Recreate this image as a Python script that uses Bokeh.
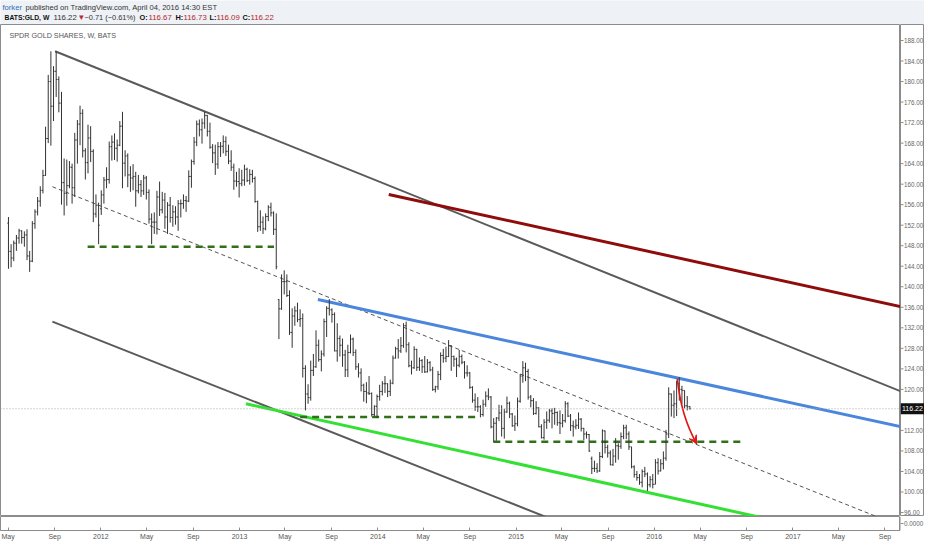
import pandas as pd
from datetime import datetime
from bokeh.plotting import figure
from bokeh.layouts import column, row
from bokeh.models import (ColumnDataSource, Range1d, MonthsTicker, CustomJSTickFormatter,
                          Label, Span, Arrow, VeeHead)
from bokeh.core.properties import value
from bokeh.embed import file_html
from bokeh.resources import INLINE

# ---------------- data (weekly GLD bars) ----------------
first_week = "2011-05-02"
opens = [
    152.4, 146.9, 145.6, 148.5, 149.5, 150.9, 149.6, 150.1, 146.0, 145.0, 152.3, 154.6, 156.7, 158.8,
    161.7, 168.9, 180.0, 175.2, 182.0, 180.4, 175.8, 160.3, 158.2, 159.7, 163.3, 159.3, 168.6, 171.7,
    173.8, 166.5, 164.2, 169.0, 166.4, 154.2, 155.9,
    155.2, 157.9, 160.8, 160.9, 167.3, 168.2, 167.0, 167.6, 171.3, 164.1, 165.5, 161.8, 161.2, 161.5,
    158.7, 159.9, 158.7, 161.2, 158.4, 153.2, 152.6, 152.6, 157.5, 155.0, 156.9, 153.6, 155.9, 153.5,
    154.6, 153.6, 156.2, 156.2, 156.8, 156.7, 161.5, 164.4, 168.2, 171.7, 170.6, 171.9, 173.4, 170.3,
    167.2, 166.1, 163.9, 167.3, 167.4, 168.3, 166.4, 164.5, 163.3, 160.6, 160.5,
    160.1, 160.8, 162.9, 160.7, 161.9, 161.1, 156.6, 151.7, 152.6, 151.3, 153.7, 155.5, 154.4, 151.2,
    137.5, 135.7, 141.0, 141.0, 138.3, 131.1, 134.3, 135.3, 133.6, 133.8, 124.1, 119.1, 118.4, 123.7,
    124.4, 128.6, 125.8, 126.9, 133.2, 135.8, 135.5, 134.6, 127.5, 129.9, 128.6, 126.7, 123.8, 127.2,
    129.8, 127.2, 124.4, 123.2, 120.8, 119.6, 119.3, 119.2, 115.1, 116.7,
    118.6, 119.6, 121.1, 121.1, 119.6, 121.2, 126.1, 127.9, 127.5, 128.5, 132.4, 128.7, 124.6, 124.2,
    127.8, 124.3, 125.6, 124.4, 123.4, 125.2, 123.8, 120.0, 120.5, 122.9, 126.6, 126.1, 126.4, 128.5,
    126.4, 125.9, 124.7, 126.4, 125.3, 123.2, 123.2, 120.4, 117.9, 116.6, 116.6, 115.1, 117.1, 118.7,
    118.5, 112.7, 113.4, 114.4, 115.4, 112.4, 115.6, 117.3, 115.2, 112.9,
    113.3, 117.7, 122.6, 124.2, 123.5, 118.5, 117.8, 115.3, 116.4, 112.7, 110.6, 113.6, 114.0, 115.8,
    115.3, 115.5, 113.5, 113.4, 113.9, 117.2, 114.8, 112.9, 112.7, 113.0, 114.2, 112.4, 111.3, 111.2,
    106.5, 104.6, 104.6, 104.1, 106.9, 111.9, 108.7, 107.6, 105.3, 107.0, 109.0, 108.9, 110.8, 112.5,
    111.3, 108.8, 104.9, 103.4, 102.8, 101.9, 104.0, 103.5, 101.4, 102.4,
    101.5, 105.7, 104.1, 105.5, 106.6, 111.3, 119.1, 116.9, 117.2, 121.1, 120.0, 119.8, 116.8, 116.67,
]
highs = [
    153.6, 148.3, 149.0, 150.1, 151.3, 151.0, 150.8, 151.2, 147.0, 152.8, 155.1, 157.5, 159.6, 162.8,
    171.2, 181.3, 185.9, 183.0, 185.8, 181.0, 178.0, 165.0, 164.8, 164.5, 164.0, 170.0, 172.5, 175.3,
    174.6, 167.0, 171.6, 171.3, 166.8, 158.0, 156.4,
    158.8, 161.4, 163.3, 168.3, 169.5, 169.9, 168.7, 172.3, 174.1, 166.6, 166.0, 163.5, 163.9, 162.4,
    161.8, 160.8, 161.8, 161.6, 159.0, 154.3, 154.5, 158.7, 160.5, 158.5, 158.3, 156.5, 157.5, 155.9,
    155.7, 156.9, 157.0, 158.0, 157.7, 162.7, 164.8, 169.2, 172.4, 172.6, 172.8, 174.1, 173.5, 172.0,
    167.8, 167.7, 168.2, 168.2, 169.5, 169.3, 167.7, 166.6, 164.0, 162.4, 163.1,
    162.8, 163.8, 163.2, 162.9, 162.8, 161.5, 156.8, 154.9, 153.7, 154.3, 155.9, 156.4, 154.7, 154.3,
    137.6, 142.4, 143.2, 142.4, 139.3, 135.8, 136.2, 136.9, 135.6, 134.8, 124.7, 121.0, 125.6, 126.9,
    131.5, 129.7, 127.6, 133.8, 136.2, 137.6, 135.8, 135.0, 132.9, 130.5, 129.9, 127.7, 128.7, 130.7,
    130.1, 127.8, 125.1, 124.1, 121.1, 121.4, 122.6, 119.4, 116.9, 119.0,
    120.9, 121.6, 122.6, 121.2, 121.9, 126.6, 128.3, 129.8, 130.2, 132.9, 133.2, 129.2, 125.6, 128.4,
    127.9, 126.2, 125.9, 126.5, 125.9, 125.5, 124.4, 120.7, 123.6, 127.2, 127.9, 128.3, 129.6, 128.6,
    126.6, 126.2, 127.7, 126.8, 125.5, 124.7, 123.4, 120.6, 119.2, 118.5, 116.9, 118.0, 119.6, 120.2,
    118.7, 114.4, 114.6, 117.0, 116.9, 116.2, 118.6, 117.6, 115.4, 114.9,
    118.4, 123.0, 125.5, 125.2, 124.0, 118.9, 118.3, 117.7, 116.5, 113.2, 114.2, 115.7, 116.2, 116.3,
    116.4, 115.7, 115.9, 115.2, 117.7, 117.5, 115.2, 113.9, 114.2, 115.5, 114.4, 112.5, 111.8, 111.3,
    106.9, 106.1, 105.6, 107.8, 112.2, 112.0, 109.2, 108.1, 108.4, 110.5, 109.5, 111.6, 113.1, 113.1,
    111.8, 108.8, 105.2, 104.1, 103.5, 104.4, 104.9, 103.8, 103.1, 103.5,
    106.4, 106.6, 106.4, 107.9, 112.1, 120.4, 119.2, 119.8, 121.7, 122.4, 120.7, 119.8, 118.7, 116.73,
]
lows = [
    143.5, 143.8, 145.0, 147.0, 148.4, 148.4, 147.8, 145.2, 142.9, 144.8, 151.3, 153.9, 155.6, 158.2,
    161.6, 168.0, 167.5, 172.3, 177.0, 174.0, 156.0, 153.9, 155.8, 159.2, 156.2, 157.5, 164.0, 167.6,
    165.2, 160.9, 162.1, 164.3, 152.6, 153.5, 148.3,
    154.0, 156.2, 159.2, 160.1, 164.6, 164.7, 164.4, 167.4, 159.2, 161.5, 159.4, 158.5, 158.8, 155.6,
    158.2, 157.5, 157.9, 157.0, 152.3, 148.3, 150.3, 150.2, 153.8, 154.3, 151.3, 150.3, 152.5, 151.7,
    152.1, 150.9, 153.5, 155.2, 154.6, 156.5, 159.3, 163.8, 167.4, 169.3, 167.9, 170.8, 169.3, 166.9,
    164.1, 161.8, 163.0, 165.3, 166.0, 165.5, 163.9, 162.6, 158.9, 159.5, 157.4,
    159.6, 159.7, 160.4, 159.9, 160.3, 156.4, 150.7, 150.9, 150.3, 151.0, 152.8, 153.7, 150.1, 143.4,
    129.8, 135.5, 138.5, 138.0, 130.6, 128.1, 132.4, 133.1, 132.2, 122.3, 115.9, 117.2, 117.8, 122.6,
    124.2, 125.4, 123.5, 126.4, 130.2, 134.4, 133.0, 127.4, 125.4, 126.4, 124.4, 122.4, 122.4, 127.0,
    126.5, 123.8, 122.3, 119.6, 117.6, 117.3, 118.9, 114.7, 114.7, 114.5,
    117.8, 118.8, 119.3, 118.5, 118.7, 121.0, 126.0, 126.0, 127.1, 128.1, 127.2, 124.3, 122.9, 124.0,
    123.6, 123.6, 123.2, 123.2, 123.3, 123.5, 119.7, 119.4, 119.9, 121.8, 125.2, 125.3, 126.3, 123.6,
    124.4, 122.4, 124.3, 124.9, 122.1, 122.5, 120.1, 117.4, 115.8, 115.6, 114.6, 114.7, 116.6, 117.9,
    112.4, 109.8, 110.0, 113.8, 110.8, 110.4, 115.4, 114.4, 112.7, 111.9,
    112.8, 117.4, 121.3, 121.6, 118.0, 116.5, 115.0, 115.1, 112.6, 110.4, 110.2, 112.3, 113.5, 112.4,
    113.1, 112.9, 111.3, 112.6, 113.5, 114.6, 111.9, 110.8, 112.2, 112.3, 111.8, 110.1, 110.4, 107.8,
    103.5, 103.9, 103.7, 103.9, 106.6, 107.5, 106.7, 105.2, 105.1, 105.7, 106.3, 108.4, 110.3, 110.3,
    108.2, 104.6, 102.8, 102.2, 101.4, 100.9, 102.9, 100.2, 100.9, 100.7,
    101.5, 103.4, 104.0, 104.4, 106.1, 110.5, 114.7, 114.4, 114.8, 117.8, 117.1, 116.3, 115.9, 116.09,
]
closes = [
    146.9, 145.6, 148.5, 149.5, 150.9, 149.6, 150.1, 146.0, 145.0, 152.3, 154.6, 156.7, 158.8, 161.7,
    168.9, 180.0, 175.2, 182.0, 180.4, 175.8, 160.3, 158.2, 159.7, 163.3, 159.3, 168.6, 171.7, 173.8,
    166.5, 164.2, 169.0, 166.4, 154.2, 155.9, 152.0,
    157.9, 160.8, 160.9, 167.3, 168.2, 167.0, 167.6, 171.3, 164.1, 165.5, 161.8, 161.2, 161.5, 158.7,
    159.9, 158.7, 161.2, 158.4, 153.2, 152.6, 152.6, 157.5, 155.0, 156.9, 153.6, 155.9, 153.5, 154.6,
    153.6, 156.2, 156.2, 156.8, 156.7, 161.5, 164.4, 168.2, 171.7, 170.6, 171.9, 173.4, 170.3, 167.2,
    166.1, 163.9, 167.3, 167.4, 168.3, 166.4, 164.5, 163.3, 160.6, 160.5, 160.1,
    160.8, 162.9, 160.7, 161.9, 161.1, 156.6, 151.7, 152.6, 151.3, 153.7, 155.5, 154.4, 151.2, 143.9,
    135.7, 141.0, 141.0, 138.3, 131.1, 134.3, 135.3, 133.6, 133.8, 124.1, 119.1, 118.4, 123.7, 124.4,
    128.6, 125.8, 126.9, 133.2, 135.8, 135.5, 134.6, 127.5, 129.9, 128.6, 126.7, 123.8, 127.2, 129.8,
    127.2, 124.4, 123.2, 120.8, 119.6, 119.3, 119.2, 115.1, 116.7, 118.6,
    119.6, 121.1, 121.1, 119.6, 121.2, 126.1, 127.9, 127.5, 128.5, 132.4, 128.7, 124.6, 124.2, 127.8,
    124.3, 125.6, 124.4, 123.4, 125.2, 123.8, 120.0, 120.5, 122.9, 126.6, 126.1, 126.4, 128.5, 126.4,
    125.9, 124.7, 126.4, 125.3, 123.2, 123.2, 120.4, 117.9, 116.6, 116.6, 115.1, 117.1, 118.7, 118.5,
    112.7, 113.4, 114.4, 115.4, 112.4, 115.6, 117.3, 115.2, 112.9, 113.3,
    117.7, 122.6, 124.2, 123.5, 118.5, 117.8, 115.3, 116.4, 112.7, 110.6, 113.6, 114.0, 115.8, 115.3,
    115.5, 113.5, 113.4, 113.9, 117.2, 114.8, 112.9, 112.7, 113.0, 114.2, 112.4, 111.3, 111.2, 108.0,
    104.6, 104.6, 104.1, 106.9, 111.9, 108.7, 107.6, 105.3, 107.0, 109.0, 108.9, 110.8, 112.5, 111.3,
    108.8, 104.9, 103.4, 102.8, 101.9, 104.0, 103.5, 101.4, 102.4, 101.5,
    105.7, 104.1, 105.5, 106.6, 111.3, 119.1, 116.9, 117.2, 121.1, 120.0, 119.8, 116.8, 116.6, 116.22,
]

# trend lines / drawings (date, price)
channel_top_x = ["2011-09-02", "2017-10-20"]; channel_top_y = [185.9, 119.4]
channel_bot_x = ["2011-08-26", "2015-04-15"]; channel_bot_y = [133.2, 94.4]
mid_dash_x = ["2011-08-26", "2017-10-20"]; mid_dash_y = [159.5, 93.1]
red_line_x = ["2014-01-30", "2017-10-20"]; red_line_y = [158.0, 136.0]
blue_line_x = ["2013-07-27", "2017-10-20"]; blue_line_y = [137.5, 112.6]
green_line_x = ["2013-01-18", "2016-12-23"]; green_line_y = [117.2, 93.8]
support_levels = [147.8, 114.6, 109.8]
support_starts = ["2011-11-27", "2013-06-10", "2014-11-02"]
support_ends = ["2013-04-02", "2014-09-29", "2016-08-27"]
arrow_x = ["2016-03-02", "2016-03-11", "2016-04-22"]; arrow_y = [122.1, 114.9, 109.4]
last_price = 116.22

price_ticks = [96, 100, 104, 108, 112, 116, 120, 124, 128, 132, 136, 140, 144, 148,
               152, 156, 160, 164, 168, 172, 176, 180, 184, 188]
price_tick_labels = ["%.2f" % t for t in price_ticks]
volume_tick_label = "0.0000"
month_names = ["Jan", "Feb", "Mar", "Apr", "May", "Jun", "Jul", "Aug", "Sep", "Oct", "Nov", "Dec"]

header1_text = ["forker", "published on TradingView.com, April 04, 2016 14:30 EST"]
header1_x = [2, 25]
header1_color = ["#2a6fb8", "#333333"]
header2_text = ["BATS:GLD, W", "116.22", "\u25bc", "\u22120.71 (\u22120.61%)", "O:", "116.67",
                "H:", "116.73", "L:", "116.09", "C:", "116.22"]
header2_x = [4, 53, 77, 84, 139, 148, 175, 183, 209, 216, 242, 250]
header2_size = ["6.8px", "7.8px", "7.8px", "7.4px", "7.4px", "7.8px",
                "7.4px", "7.8px", "7.4px", "7.8px", "7.4px", "7.8px"]
header2_color = ["#111111", "#333333", "#c0262d", "#333333", "#111111", "#b3262b",
                 "#111111", "#b3262b", "#111111", "#b3262b", "#111111", "#b3262b"]
header2_style = ["bold", "normal", "normal", "normal", "bold", "normal",
                 "bold", "normal", "bold", "normal", "bold", "normal"]
chart_label = "SPDR GOLD SHARES, W, BATS"

# ---------------- build ----------------
FONT = "Liberation Sans"
PLOT_W, AXIS_W = 900, 24
HEAD_H, MAIN_H, VOL_H = 24, 492, 26
GREY = "#8c8c8c"
HEAD_BG = "#eef1f5"
common = dict(output_backend="svg", toolbar_location=None,
              min_border_left=0, min_border_right=0, min_border_top=0, min_border_bottom=0)

def d(lst):
    return pd.to_datetime(lst)

# header strip
head = figure(width=PLOT_W + AXIS_W, height=HEAD_H, x_range=Range1d(0, PLOT_W + AXIS_W),
              y_range=Range1d(HEAD_H, 0), x_axis_location=None, y_axis_location=None, **common)
head.grid.visible = False
head.outline_line_color = None
head.background_fill_color = HEAD_BG
head.border_fill_color = HEAD_BG
head.text(x=header1_x, y=[7, 7], text=header1_text, text_color=header1_color,
          text_font=value(FONT), text_font_size="7.6px", text_baseline="middle")
head.text(x=header2_x, y=[17] * len(header2_x), text=header2_text, text_color=header2_color,
          text_font_style=header2_style, text_font_size=header2_size, text_font=value(FONT),
          text_baseline="middle")

# main price pane
dates = pd.date_range(first_week, periods=len(closes), freq="7D")
tick_w = pd.Timedelta(days=3)
src = ColumnDataSource(dict(x=dates, xl=dates - tick_w, xr=dates + tick_w,
                            o=opens, h=highs, l=lows, c=closes))
x_range = Range1d(start=datetime(2011, 4, 11), end=datetime(2017, 10, 12))
y_range = Range1d(95.22, 191.12)
main = figure(width=PLOT_W, height=MAIN_H, x_range=x_range, y_range=y_range,
              x_axis_type="datetime", x_axis_location=None, y_axis_location=None, **common)
main.grid.visible = False
main.outline_line_color = GREY

main.add_layout(Span(location=last_price, dimension="width", line_color="#a8a8a8",
                     line_dash="1 2", line_width=1))
main.line(d(mid_dash_x), mid_dash_y, line_color="#555555", line_width=1, line_dash="4 3")
main.line(d(channel_top_x), channel_top_y, line_color="#5a5a5a", line_width=2)
main.line(d(channel_bot_x), channel_bot_y, line_color="#5a5a5a", line_width=2)
main.line(d(red_line_x), red_line_y, line_color="#8e0c0c", line_width=3)
main.line(d(blue_line_x), blue_line_y, line_color="#4a86dc", line_width=3)
main.line(d(green_line_x), green_line_y, line_color="#33e033", line_width=3)
main.segment(x0=d(support_starts), y0=support_levels, x1=d(support_ends), y1=support_levels,
             line_color="#2f7018", line_width=2.5, line_dash="7 5")

bar_color = "#333333"
main.segment(x0="x", y0="l", x1="x", y1="h", source=src, line_color=bar_color, line_width=1)
main.segment(x0="xl", y0="o", x1="x", y1="o", source=src, line_color=bar_color, line_width=1)
main.segment(x0="x", y0="c", x1="xr", y1="c", source=src, line_color=bar_color, line_width=1)

ax = d(arrow_x)
main.quadratic(x0=[ax[0]], y0=[arrow_y[0]], x1=[ax[2]], y1=[arrow_y[2]],
               cx=[ax[1]], cy=[arrow_y[1]], line_color="#e01515", line_width=1.6)
to_ms = lambda t: t.value / 1e6
main.add_layout(Arrow(x_start=to_ms(ax[1]), y_start=arrow_y[1], x_end=to_ms(ax[2]), y_end=arrow_y[2],
                      line_alpha=0, end=VeeHead(size=8, line_color="#e01515", fill_color="#e01515",
                                                line_width=1)))
main.add_layout(Label(x=9, y=MAIN_H - 11, x_units="screen", y_units="screen", text=chart_label,
                      text_color="#555555", text_font=FONT, text_font_size="7.2px",
                      text_baseline="middle"))

# right price scale
pax = figure(width=AXIS_W, height=MAIN_H, x_range=Range1d(0, AXIS_W), y_range=y_range,
             x_axis_location=None, y_axis_location=None, **common)
pax.grid.visible = False
pax.outline_line_color = GREY
pax.segment(x0=[0] * len(price_ticks), y0=price_ticks, x1=[3] * len(price_ticks), y1=price_ticks,
            line_color=GREY, line_width=1)
pax.text(x=[3.5] * len(price_ticks), y=price_ticks, text=price_tick_labels, text_color="#666666",
         text_font=value(FONT), text_font_size="6.3px", text_baseline="middle")
pax.rect(x=[AXIS_W / 2], y=[last_price], width=AXIS_W, height=11, height_units="screen",
         fill_color="#111111", line_color=None)
pax.text(x=[1.5], y=[last_price], text=["116.22"], text_color="white",
         text_font=value(FONT), text_font_size="7px", text_baseline="middle")

# volume pane with the time axis
vol = figure(width=PLOT_W, height=VOL_H, x_range=x_range, y_range=Range1d(-1, 1),
             x_axis_type="datetime", y_axis_location=None, **common)
vol.grid.visible = False
vol.outline_line_color = GREY
vx = vol.xaxis[0]
vx.ticker = MonthsTicker(months=[0, 4, 8])
vx.formatter = CustomJSTickFormatter(args=dict(names=month_names), code="""
const dt = new Date(tick);
const m = dt.getUTCMonth();
return m === 0 ? String(dt.getUTCFullYear()) : names[m];
""")
vx.major_label_text_font = FONT
vx.major_label_text_font_size = "7px"
vx.major_label_text_color = "#555555"
vx.axis_line_color = GREY
vx.major_tick_line_color = GREY
vx.major_tick_in = 3
vx.major_tick_out = 0
vx.minor_tick_line_color = None
vx.major_label_standoff = 2

vax = figure(width=AXIS_W, height=VOL_H, x_range=Range1d(0, AXIS_W), y_range=Range1d(-1, 1),
             x_axis_location=None, y_axis_location=None, **common)
vax.grid.visible = False
vax.outline_line_color = None
vax.segment(x0=[0], y0=[-1], x1=[0], y1=[1], line_color=GREY, line_width=1)
vax.segment(x0=[0], y0=[0], x1=[3], y1=[0], line_color=GREY, line_width=1)
vax.text(x=[3.5], y=[0], text=[volume_tick_label], text_color="#666666",
         text_font=value(FONT), text_font_size="6.3px", text_baseline="middle")

layout = column(head, row(main, pax, spacing=0), row(vol, vax, spacing=0), spacing=0)
open("out.html", "w").write(file_html(layout, INLINE))
